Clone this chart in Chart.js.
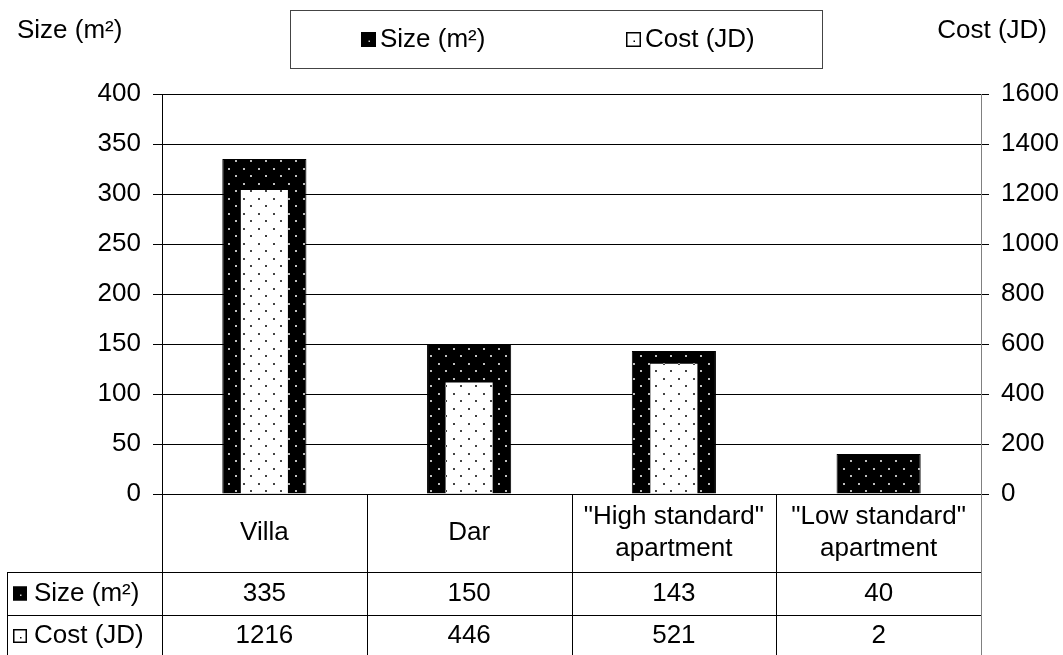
<!DOCTYPE html>
<html>
<head>
<meta charset="utf-8">
<script src="https://cdn.jsdelivr.net/npm/chart.js@4/dist/chart.umd.min.js"></script>
<style>
    html, body { margin: 0; padding: 0; background: #fff; }
    #wrap { width: 1063px; height: 655px; position: relative; }
</style>
</head>
<body>
<div id="wrap"><canvas id="housingChart" width="1063" height="655"></canvas></div>
<script>
const categories = [["Villa"], ["Dar"], ["\"High standard\"", "apartment"], ["\"Low standard\"", "apartment"]];
const sizeValues = [335, 150, 143, 40];
const costValues = [1216, 446, 521, 2];
const sizeLabel = "Size (m\u00b2)";
const costLabel = "Cost (JD)";

const FONT = "\"Liberation Sans\", Arial, sans-serif";
const FS = 26;

function dotPattern(bg, dot) {
    const c = document.createElement("canvas");
    c.width = 15;
    c.height = 15;
    const g = c.getContext("2d");
    g.fillStyle = bg;
    g.fillRect(0, 0, 15, 15);
    g.fillStyle = dot;
    g.fillRect(3, 3, 2, 2);
    g.fillRect(10, 10, 2, 2);
    return g.createPattern(c, "repeat");
}

const ctxMain = document.getElementById("housingChart").getContext("2d");
const darkFill = dotPattern("#000", "#bdbdbd");
const lightFill = dotPattern("#fff", "#444");

// small legend swatch, s = side length
function drawIcon(ctx, x, y, dark, s) {
    ctx.save();
    ctx.fillStyle = dark ? "#000" : "#fff";
    ctx.fillRect(x, y, s, s);
    ctx.strokeStyle = "#000";
    ctx.lineWidth = 1.5;
    ctx.strokeRect(x + 0.75, y + 0.75, s - 1.5, s - 1.5);
    ctx.fillStyle = dark ? "#ccc" : "#000";
    ctx.fillRect(x + s / 2, y + s / 2 + 1, 1.5, 1.5);
    ctx.restore();
}

function hline(ctx, x1, x2, y) {
    ctx.beginPath();
    ctx.moveTo(x1, Math.round(y) + 0.5);
    ctx.lineTo(x2, Math.round(y) + 0.5);
    ctx.stroke();
}
function vline(ctx, x, y1, y2) {
    ctx.beginPath();
    ctx.moveTo(Math.round(x) + 0.5, y1);
    ctx.lineTo(Math.round(x) + 0.5, y2);
    ctx.stroke();
}

const extras = {
    id: "extras",
    afterDraw(chart) {
        const ctx = chart.ctx;
        const area = chart.chartArea;
        const colW = (area.right - area.left) / categories.length;
        ctx.save();
        ctx.font = FS + "px " + FONT;
        ctx.fillStyle = "#000";
        ctx.textBaseline = "middle";

        // axis titles
        ctx.textAlign = "left";
        ctx.fillText(sizeLabel, 17, 31);
        ctx.textAlign = "right";
        ctx.fillText(costLabel, 1047, 31);

        // legend box
        ctx.strokeStyle = "#444";
        ctx.lineWidth = 1;
        ctx.strokeRect(290.5, 10.5, 532, 58);
        drawIcon(ctx, 361, 32, true, 15);
        ctx.textAlign = "left";
        ctx.fillText(sizeLabel, 380, 40);
        drawIcon(ctx, 626, 32, false, 15);
        ctx.fillText(costLabel, 645, 40);

        // data table
        const row1 = area.bottom + 78;
        const row2 = row1 + 43;
        const tableBottom = 655;
        ctx.strokeStyle = "#000";
        ctx.lineWidth = 1;
        for (let i = 0; i < categories.length; i++) {
            vline(ctx, area.left + i * colW, area.bottom, tableBottom);
        }
        vline(ctx, 7, row1, tableBottom);
        hline(ctx, 7, area.right, row1);
        hline(ctx, 7, area.right, row2);
        ctx.strokeStyle = "#808080";
        vline(ctx, area.right, area.bottom, tableBottom);

        ctx.textAlign = "center";
        categories.forEach((lines, i) => {
            const cx = area.left + (i + 0.5) * colW;
            const cy = (area.bottom + row1) / 2;
            const lh = 32;
            lines.forEach((t, j) => {
                ctx.fillText(t, cx, cy + (j - (lines.length - 1) / 2) * lh);
            });
            ctx.fillText(String(sizeValues[i]), cx, (row1 + row2) / 2);
            ctx.fillText(String(costValues[i]), cx, (row2 + tableBottom) / 2 + 1);
        });

        ctx.textAlign = "left";
        drawIcon(ctx, 13, (row1 + row2) / 2 - 7, true, 14);
        ctx.fillText(sizeLabel, 34, (row1 + row2) / 2);
        drawIcon(ctx, 13, (row2 + tableBottom) / 2 - 6, false, 14);
        ctx.fillText(costLabel, 34, (row2 + tableBottom) / 2 + 1);
        ctx.restore();
    },
};

new Chart(ctxMain, {
    type: "bar",
    data: {
        labels: categories.map((c) => c.join(" ")),
        datasets: [
            {
                label: sizeLabel,
                data: sizeValues,
                yAxisID: "y",
                backgroundColor: darkFill,
                borderColor: "#000",
                borderWidth: 1,
                grouped: false,
                order: 2,
                categoryPercentage: 1,
                barPercentage: 0.411,
            },
            {
                label: costLabel,
                data: costValues,
                yAxisID: "y1",
                backgroundColor: lightFill,
                borderWidth: 0,
                grouped: false,
                order: 1,
                categoryPercentage: 1,
                barPercentage: 0.23,
            },
        ],
    },
    options: {
        responsive: false,
        animation: false,
        layout: { padding: { top: 94, bottom: 161, left: 0, right: 0 } },
        plugins: {
            legend: { display: false },
            tooltip: { enabled: false },
        },
        scales: {
            x: { display: false },
            y: {
                position: "left",
                min: 0,
                max: 400,
                ticks: { stepSize: 50, color: "#000", font: { size: FS, family: FONT }, padding: 12 },
                grid: { color: "#000", tickLength: 9 },
                border: { color: "#000" },
                afterFit(scale) { scale.width = 162; },
            },
            y1: {
                position: "right",
                min: 0,
                max: 1600,
                ticks: {
                    stepSize: 200,
                    color: "#000",
                    font: { size: FS, family: FONT },
                    padding: 12,
                    callback: (v) => String(v),
                },
                grid: { drawOnChartArea: false, color: "#000", tickLength: 8 },
                border: { color: "#808080" },
                afterFit(scale) { scale.width = 82; },
            },
        },
    },
    plugins: [extras],
});
</script>
</body>
</html>
